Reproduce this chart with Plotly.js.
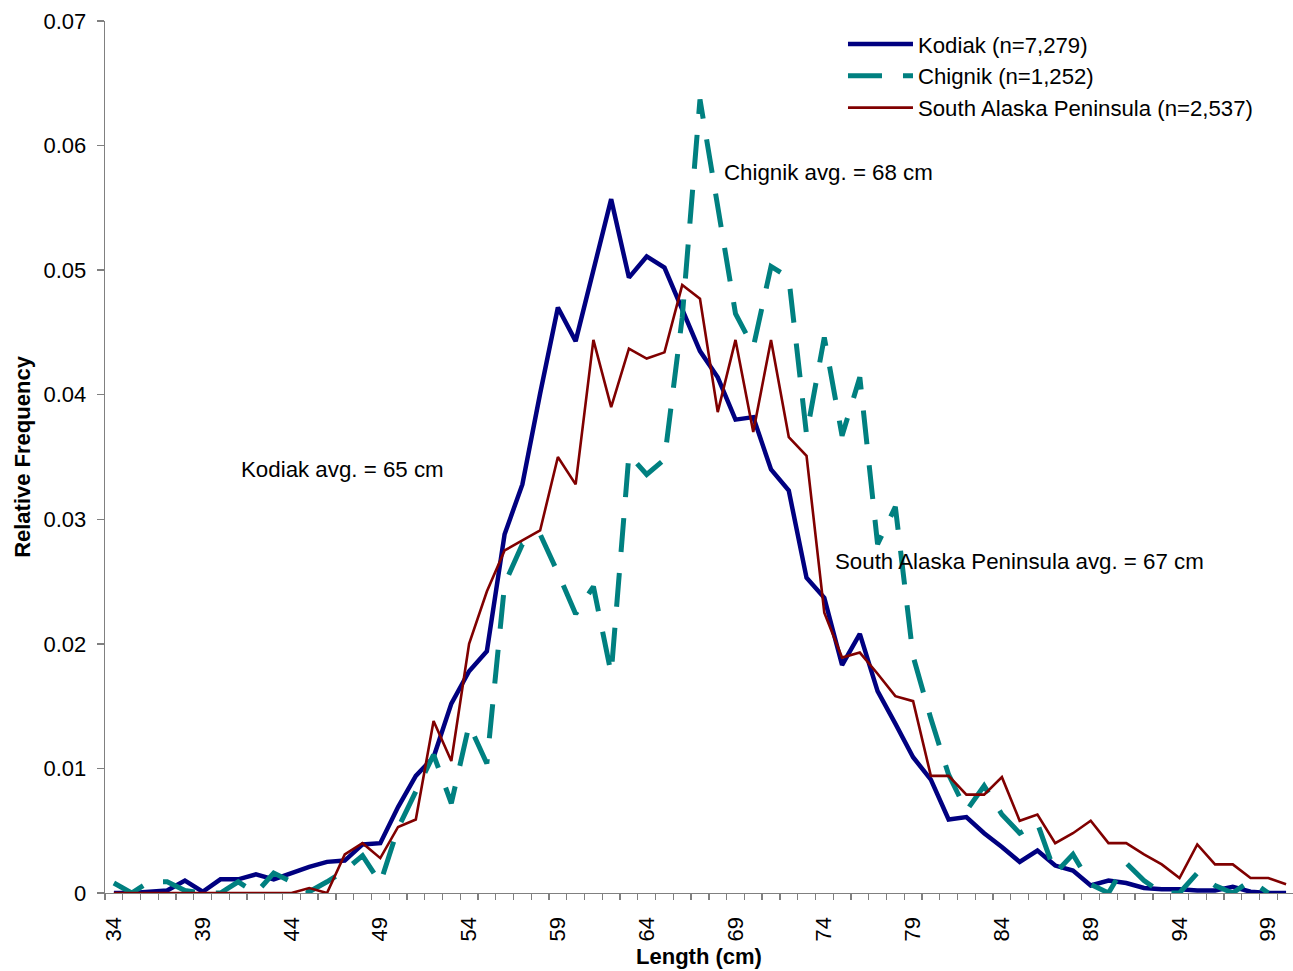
<!DOCTYPE html>
<html>
<head>
<meta charset="utf-8">
<script src="https://cdn.plot.ly/plotly-3.0.1.min.js"></script>
<style>
  html, body { margin: 0; padding: 0; background: #ffffff; overflow: hidden; }
  #chart { width: 1293px; height: 971px; }
</style>
</head>
<body>
<div id="chart"></div>
<script>
// Length classes (cm)
const lengths = [34,35,36,37,38,39,40,41,42,43,44,45,46,47,48,49,50,51,52,53,54,55,56,57,58,59,60,61,62,63,64,65,66,67,68,69,70,71,72,73,74,75,76,77,78,79,80,81,82,83,84,85,86,87,88,89,90,91,92,93,94,95,96,97,98,99,100];

// Relative frequency, Kodiak (n=7,279)
const kodiak = [0,0,0.0001,0.0002,0.0010,0.0001,0.0011,0.0011,0.0015,0.0011,
  0.0016,0.0021,0.0025,0.0026,0.0039,0.0040,0.0069,0.0094,0.0109,0.0152,
  0.0178,0.0194,0.0288,0.0328,0.0401,0.0470,0.0443,0.0499,0.0557,0.0494,
  0.0511,0.0502,0.0469,0.0435,0.0414,0.0380,0.0382,0.0340,0.0323,0.0253,
  0.0237,0.0183,0.0208,0.0162,0.0136,0.0109,0.0091,0.0059,0.0061,0.0048,
  0.0037,0.0025,0.0034,0.0022,0.0018,0.0006,0.0010,0.0008,0.0004,0.0003,
  0.0003,0.0002,0.0002,0.0005,0.0001,0,0];

// Relative frequency, Chignik (n=1,252)
const chignik = [0.0008,0,0.0009,0.0009,0.0002,0,0,0.0009,0,0.0016,
  0.0009,0.0001,0.0009,0.0018,0.0030,0.0008,0.0052,0.0082,0.0111,0.0072,
  0.0135,0.0104,0.0248,0.0280,0.0288,0.0257,0.0224,0.0246,0.0176,0.0352,
  0.0336,0.0348,0.0462,0.0637,0.0552,0.0465,0.0438,0.0503,0.0494,0.0368,
  0.0446,0.0367,0.0414,0.0280,0.0310,0.0190,0.0140,0.0095,0.0066,0.0086,
  0.0063,0.0048,0.0056,0.0016,0.0031,0.0007,0,0.0024,0.0010,0,
  0,0.0016,0.0006,0,0.0010,0,null];

// Relative frequency, South Alaska Peninsula (n=2,537)
const sap = [0,0,0,0,0,0,0,0,0,0,
  0,0.0004,0,0.0031,0.0040,0.0028,0.0053,0.0059,0.0138,0.0106,
  0.0200,0.0242,0.0275,0.0283,0.0291,0.0350,0.0328,0.0444,0.0390,0.0437,
  0.0429,0.0434,0.0488,0.0477,0.0386,0.0444,0.0370,0.0444,0.0366,0.0351,
  0.0225,0.0189,0.0193,0.0176,0.0158,0.0154,0.0094,0.0094,0.0079,0.0079,
  0.0093,0.0058,0.0063,0.0040,0.0048,0.0058,0.0040,0.0040,0.0031,0.0023,
  0.0012,0.0039,0.0023,0.0023,0.0012,0.0012,0.0007];

const seriesNames = ['Kodiak (n=7,279)', 'Chignik (n=1,252)', 'South Alaska Peninsula (n=2,537)'];
const xTickVals = [34,39,44,49,54,59,64,69,74,79,84,89,94,99];
const xTickText = ['34','39','44','49','54','59','64','69','74','79','84','89','94','99'];
const noteTexts = ['Kodiak avg. = 65 cm', 'Chignik avg. = 68 cm', 'South Alaska Peninsula avg. = 67 cm'];

const FONT = 'Liberation Sans, Arial, Helvetica, sans-serif';

const traces = [
  { x: lengths, y: kodiak, name: seriesNames[0], legendgroup: 'a', mode: 'lines',
    line: { color: '#000080', width: 4.5 }, hoverinfo: 'x+y' },
  { x: lengths, y: chignik, name: seriesNames[1], legendgroup: 'b', mode: 'lines',
    line: { color: '#008080', width: 5, dash: '34px,21px' }, hoverinfo: 'x+y' },
  { x: lengths, y: sap, name: seriesNames[2], legendgroup: 'c', mode: 'lines',
    line: { color: '#800000', width: 2.6 }, hoverinfo: 'x+y' }
];

const layout = {
  width: 1293, height: 971,
  margin: { l: 105, r: 0, t: 21, b: 78 },
  paper_bgcolor: '#ffffff', plot_bgcolor: '#ffffff',
  font: { family: FONT, size: 22, color: '#000000' },
  showlegend: true,
  legend: {
    x: 0.6212, y: 0.9977, xanchor: 'left', yanchor: 'top',
    font: { family: FONT, size: 22.2, color: '#000000' },
    bgcolor: 'rgba(0,0,0,0)', borderwidth: 0,
    itemwidth: 65, tracegroupgap: 5, traceorder: 'normal'
  },
  xaxis: {
    range: [33.5, 100.39],
    showline: true, linecolor: '#808080', linewidth: 1.3,
    showgrid: false, zeroline: false,
    tickmode: 'array', tickvals: xTickVals, ticktext: xTickText,
    tickangle: -90, ticks: '', ticklabelstandoff: 14,
    tickfont: { family: FONT, size: 22, color: '#000000' },
    minor: { tickmode: 'linear', tick0: 33.5, dtick: 1, ticks: 'outside', ticklen: 6,
             tickcolor: '#808080', tickwidth: 1.3, showgrid: false },
    title: { text: '<b>Length (cm)</b>', font: { family: FONT, size: 22, color: '#000000' }, standoff: 8 }
  },
  yaxis: {
    range: [0, 0.07], tick0: 0, dtick: 0.01,
    showline: true, linecolor: '#808080', linewidth: 1.3,
    showgrid: false, zeroline: false,
    ticks: 'outside', ticklen: 7, tickcolor: '#808080', tickwidth: 1.3,
    ticklabelstandoff: 6,
    tickfont: { family: FONT, size: 22, color: '#000000' },
    title: { text: '<b>Relative Frequency</b>', font: { family: FONT, size: 22, color: '#000000' }, standoff: 6 }
  },
  annotations: [
    { x: 41.05, y: 0.0340, xref: 'x', yref: 'y', text: noteTexts[0], showarrow: false,
      xanchor: 'left', yanchor: 'middle', font: { family: FONT, size: 22.3, color: '#000000' } },
    { x: 68.22, y: 0.0578, xref: 'x', yref: 'y', text: noteTexts[1], showarrow: false,
      xanchor: 'left', yanchor: 'middle', font: { family: FONT, size: 22.3, color: '#000000' } },
    { x: 74.48, y: 0.02665, xref: 'x', yref: 'y', text: noteTexts[2], showarrow: false,
      xanchor: 'left', yanchor: 'middle', font: { family: FONT, size: 22.3, color: '#000000' } }
  ]
};

Plotly.newPlot('chart', traces, layout, { displayModeBar: false, staticPlot: true });
</script>
</body>
</html>
